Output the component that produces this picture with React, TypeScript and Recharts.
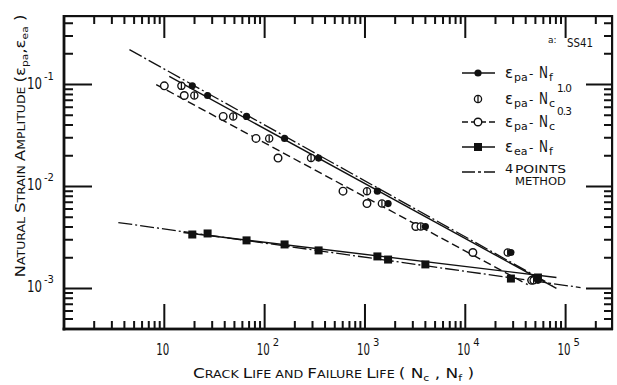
import React from 'react';
import { ComposedChart, XAxis, YAxis, Scatter, Line } from 'recharts';

// Failure life N_f (shared by the ε_pa–N_f and ε_ea–N_f series)
const failureLife = [19, 27, 66, 158, 345, 1330, 1700, 4000, 28500, 53000];
// Crack life N_c, crack-length exponent 1.0
const crackLife10 = [14.8, 19.9, 48.6, 111, 290, 1047, 1476, 3600, 26500, 48000];
// Crack life N_c, crack-length exponent 0.3
const crackLife03 = [10, 15.8, 38.6, 82, 136, 604, 1047, 3210, 11900, 45900];
// Plastic strain amplitude ε_pa of each specimen
const plasticStrain = [0.097, 0.078, 0.0486, 0.0296, 0.019, 0.009, 0.0068, 0.00405, 0.00225, 0.0012];
// Elastic strain amplitude ε_ea of each specimen
const elasticStrain = [0.00338, 0.00346, 0.00296, 0.0027, 0.00236, 0.00206, 0.00192, 0.00172, 0.00125, 0.00128];

// Fitted straight lines (end points in life / strain)
const fitPaNfLife = [11.2, 81000];
const fitPaNfStrain = [0.12, 0.001];
const fitPaNc03Life = [8.3, 41900];
const fitPaNc03Strain = [0.1, 0.00109];
const fitEaNfLife = [15.5, 81000];
const fitEaNfStrain = [0.00354, 0.00128];
const fourPointPaLife = [4.49, 74000];
const fourPointPaStrain = [0.22, 0.00107];
const fourPointEaLife = [3.48, 141000];
const fourPointEaStrain = [0.00443, 0.00102];

// Axis ranges, tick multipliers and decade tick labels
const X_DOMAIN: [number, number] = [1, 2.9e5];
const Y_DOMAIN: [number, number] = [4e-4, 0.47];
const TICK_MULTIPLIERS = [1, 2, 3, 4, 5, 6, 7, 8, 9];
const X_DECADES = [0, 1, 2, 3, 4, 5];
const Y_DECADES = [-4, -3, -2, -1];
const xDecadeExponents = [1, 2, 3, 4, 5];
const yDecadeExponents = [-1, -2, -3];

const pairs = (xs: number[], ys: number[]) => xs.map((x, i) => ({ x, y: ys[i] }));

const paNf = pairs(failureLife, plasticStrain);
const paNc10 = pairs(crackLife10, plasticStrain);
const paNc03 = pairs(crackLife03, plasticStrain);
const eaNf = pairs(failureLife, elasticStrain);
const fitPaNf = pairs(fitPaNfLife, fitPaNfStrain);
const fitPaNc03 = pairs(fitPaNc03Life, fitPaNc03Strain);
const fitEaNf = pairs(fitEaNfLife, fitEaNfStrain);
const fourPointPa = pairs(fourPointPaLife, fourPointPaStrain);
const fourPointEa = pairs(fourPointEaLife, fourPointEaStrain);

type Tick = { value: number; major: boolean };

// Log ticks: each multiplier of each decade that falls strictly inside the domain
const buildTicks = (decades: number[], domain: [number, number]): Tick[] => {
  const out: Tick[] = [];
  decades.forEach((d) => {
    TICK_MULTIPLIERS.forEach((k) => {
      const value = Number((k * Math.pow(10, d)).toPrecision(6));
      if (value > domain[0] * 1.0001 && value < domain[1] * 0.9999) out.push({ value, major: k === 1 });
    });
  });
  return out;
};
const X_TICK_LIST = buildTicks(X_DECADES, X_DOMAIN);
const Y_TICK_LIST = buildTicks(Y_DECADES, Y_DOMAIN);
const X_DECADE_TICKS = xDecadeExponents.map((e) => Math.pow(10, e));
const Y_DECADE_TICKS = yDecadeExponents.map((e) => Number(Math.pow(10, e).toPrecision(6)));

const W = 617;
const H = 385;
const X_AXIS_H = 56;
const Y_AXIS_W = 64;
const MARGIN = { top: 16, right: 5, bottom: 0, left: 0 };
const PLOT = { left: Y_AXIS_W, top: MARGIN.top, right: W - MARGIN.right, bottom: H - X_AXIS_H };
const INK = '#111';
const FONT = "'DejaVu Sans', 'Liberation Sans', sans-serif";

// Same log mapping as the chart axes (domain -> plot rectangle)
const logPos = (v: number, lo: number, hi: number, a: number, b: number) =>
  a + ((Math.log10(v) - Math.log10(lo)) / (Math.log10(hi) - Math.log10(lo))) * (b - a);
const px = (v: number) => logPos(v, X_DOMAIN[0], X_DOMAIN[1], PLOT.left, PLOT.right);
const py = (v: number) => logPos(v, Y_DOMAIN[0], Y_DOMAIN[1], PLOT.bottom, PLOT.top);

const expOf = (v: number) => Math.round(Math.log10(v));

// Decade tick labels
function XTick(props: any) {
  const { x, y, payload } = props;
  const exp = expOf(payload.value);
  return (
    <g fontFamily={FONT} fill={INK}>
      <text x={x - 8} y={y + 26} fontSize={15} textLength={13} lengthAdjust="spacingAndGlyphs">10</text>
      {exp > 1 && <text x={x + 8} y={y + 17} fontSize={10}>{exp}</text>}
    </g>
  );
}

function YTick(props: any) {
  const { y, payload } = props;
  const exp = expOf(payload.value);
  return (
    <g fontFamily={FONT} fill={INK}>
      <text x={27} y={y + 4} fontSize={15} textLength={15} lengthAdjust="spacingAndGlyphs">10</text>
      <text x={44} y={y - 5} fontSize={10}>{`-${Math.abs(exp)}`}</text>
    </g>
  );
}

// Inward tick marks on all four frame edges, as one path
function TickMarks() {
  let d = '';
  X_TICK_LIST.forEach((t) => {
    const x = px(t.value).toFixed(2);
    const lb = t.major ? 25 : 8;
    const lt = t.major ? 22 : 8;
    d += `M${x},${PLOT.bottom}V${PLOT.bottom - lb}M${x},${PLOT.top}V${PLOT.top + lt}`;
  });
  Y_TICK_LIST.forEach((t) => {
    const y = py(t.value).toFixed(2);
    const ll = t.major ? 28 : 9;
    const lr = t.major ? 26 : 8;
    d += `M${PLOT.left},${y}H${PLOT.left + ll}M${PLOT.right},${y}H${PLOT.right - lr}`;
  });
  return <path d={d} stroke={INK} strokeWidth={2} fill="none" />;
}

const SolidDot = (p: any) => <circle cx={p.cx} cy={p.cy} r={3.6} fill={INK} />;
const CrossedDot = (p: any) => (
  <g>
    <circle cx={p.cx} cy={p.cy} r={3.6} fill="#fff" stroke={INK} strokeWidth={1.3} />
    <line x1={p.cx} x2={p.cx} y1={p.cy - 3.2} y2={p.cy + 3.2} stroke={INK} strokeWidth={1.3} />
  </g>
);
const OpenDot = (p: any) => <circle cx={p.cx} cy={p.cy} r={3.8} fill="#fff" stroke={INK} strokeWidth={1.4} />;
const SquareDot = (p: any) => <rect x={p.cx - 4} y={p.cy - 4} width={8} height={8} fill={INK} />;

const DASH_DOT = '14 3 2 3';
const DASHED = '8 4';

function LegendOverlay() {
  const rows = [73, 99, 122, 147, 172];
  const lx1 = 462;
  const lx2 = 495;
  const mx = 478;
  const tx = 505;
  const strainLabel = (row: number, sub: string, nSub: string, sup?: string) => {
    const b = row + 5;
    return (
      <g>
        <text x={tx} y={b} fontSize={15}>ε</text>
        <text x={tx + 9} y={b + 3} fontSize={11}>{sub}</text>
        <text x={tx + 24} y={b} fontSize={12}>-</text>
        <text x={tx + 34} y={b} fontSize={15} textLength={9} lengthAdjust="spacingAndGlyphs">N</text>
        <text x={tx + 44} y={b + 3} fontSize={11}>{nSub}</text>
        {sup && (
          <text x={tx + 52} y={b - 12} fontSize={10.5} textLength={15} lengthAdjust="spacing">{sup}</text>
        )}
      </g>
    );
  };
  return (
    <g fontFamily={FONT} fill={INK}>
      <text x={548} y={43} fontSize={9}>a:</text>
      <text x={567} y={47} fontSize={12.5} textLength={26} lengthAdjust="spacingAndGlyphs">SS41</text>

      <line x1={lx1} x2={lx2} y1={rows[0]} y2={rows[0]} stroke={INK} strokeWidth={1.5} />
      <SolidDot cx={mx} cy={rows[0]} />
      {strainLabel(rows[0], 'pa', 'f')}

      <CrossedDot cx={mx} cy={rows[1]} />
      {strainLabel(rows[1], 'pa', 'c', '1.0')}

      <line x1={lx1} x2={lx2} y1={rows[2]} y2={rows[2]} stroke={INK} strokeWidth={1.5} strokeDasharray="6 3" />
      <OpenDot cx={mx} cy={rows[2]} />
      {strainLabel(rows[2], 'pa', 'c', '0.3')}

      <line x1={lx1} x2={lx2} y1={rows[3]} y2={rows[3]} stroke={INK} strokeWidth={1.5} />
      <SquareDot cx={mx} cy={rows[3]} />
      {strainLabel(rows[3], 'ea', 'f')}

      <line x1={lx1} x2={lx2} y1={rows[4]} y2={rows[4]} stroke={INK} strokeWidth={1.5} strokeDasharray="13 3 3 3" />
      <text x={tx} y={rows[4] + 1} fontSize={13}>4</text>
      <text x={tx + 10} y={rows[4] + 1} fontSize={10.5} textLength={51} lengthAdjust="spacingAndGlyphs">POINTS</text>
      <text x={tx + 10} y={rows[4] + 13} fontSize={10.5} textLength={51} lengthAdjust="spacingAndGlyphs">METHOD</text>
    </g>
  );
}

function Titles() {
  const big = 14;
  const small = 10.5;
  return (
    <g fontFamily={FONT} fill={INK}>
      <text x={193} y={378} textLength={281} lengthAdjust="spacingAndGlyphs">
        <tspan fontSize={big}>C</tspan>
        <tspan fontSize={small}>RACK </tspan>
        <tspan fontSize={big}>L</tspan>
        <tspan fontSize={small}>IFE AND </tspan>
        <tspan fontSize={big}>F</tspan>
        <tspan fontSize={small}>AILURE </tspan>
        <tspan fontSize={big}>L</tspan>
        <tspan fontSize={small}>IFE  </tspan>
        <tspan fontSize={big}>( N</tspan>
        <tspan fontSize={9} dy={3}>c</tspan>
        <tspan fontSize={big} dy={-3}> , N</tspan>
        <tspan fontSize={9} dy={3}>f</tspan>
        <tspan fontSize={big} dy={-3}> )</tspan>
      </text>
      <text transform="translate(25,146) rotate(-90)" textAnchor="middle" textLength={263} lengthAdjust="spacingAndGlyphs">
        <tspan fontSize={big}>N</tspan>
        <tspan fontSize={small}>ATURAL </tspan>
        <tspan fontSize={big}>S</tspan>
        <tspan fontSize={small}>TRAIN </tspan>
        <tspan fontSize={big}>A</tspan>
        <tspan fontSize={small}>MPLITUDE </tspan>
        <tspan fontSize={big}>(ε</tspan>
        <tspan fontSize={9} dy={3}>pa</tspan>
        <tspan fontSize={big} dy={-3}>,ε</tspan>
        <tspan fontSize={9} dy={3}>ea</tspan>
        <tspan fontSize={big} dy={-3}> )</tspan>
      </text>
    </g>
  );
}

function Frame() {
  return (
    <g fill={INK}>
      <rect x={PLOT.left - 1} y={PLOT.top - 1} width={PLOT.right - PLOT.left + 2} height={2.2} />
      <rect x={PLOT.right - 1} y={PLOT.top - 1} width={2.2} height={PLOT.bottom - PLOT.top + 2} />
      <rect x={PLOT.left - 1.4} y={PLOT.bottom - 1.4} width={PLOT.right - PLOT.left + 2.4} height={2.8} />
      <rect x={PLOT.left - 1.4} y={PLOT.top - 1} width={2.8} height={PLOT.bottom - PLOT.top + 2.4} />
    </g>
  );
}

export default function App() {
  return (
    <div style={{ position: 'absolute', left: 0, top: 0, width: W, height: H, background: '#fff' }}>
      <ComposedChart width={W} height={H} margin={MARGIN}>
        <XAxis
          dataKey="x"
          type="number"
          scale="log"
          domain={X_DOMAIN}
          allowDataOverflow
          ticks={X_DECADE_TICKS}
          interval={0}
          tick={(p: any) => <XTick {...p} />}
          tickLine={false}
          axisLine={false}
          tickSize={0}
          tickMargin={0}
          height={X_AXIS_H}
        />
        <YAxis
          dataKey="y"
          type="number"
          scale="log"
          domain={Y_DOMAIN}
          allowDataOverflow
          ticks={Y_DECADE_TICKS}
          interval={0}
          tick={(p: any) => <YTick {...p} />}
          tickLine={false}
          axisLine={false}
          tickSize={0}
          tickMargin={0}
          width={Y_AXIS_W}
        />
        <Line data={fourPointPa} dataKey="y" type="linear" stroke={INK} strokeWidth={1.3} strokeDasharray={DASH_DOT} dot={false} isAnimationActive={false} />
        <Line data={fourPointEa} dataKey="y" type="linear" stroke={INK} strokeWidth={1.3} strokeDasharray={DASH_DOT} dot={false} isAnimationActive={false} />
        <Line data={fitPaNf} dataKey="y" type="linear" stroke={INK} strokeWidth={1.4} dot={false} isAnimationActive={false} />
        <Line data={fitPaNc03} dataKey="y" type="linear" stroke={INK} strokeWidth={1.4} strokeDasharray={DASHED} dot={false} isAnimationActive={false} />
        <Line data={fitEaNf} dataKey="y" type="linear" stroke={INK} strokeWidth={1.4} dot={false} isAnimationActive={false} />
        <Scatter data={paNc03} dataKey="y" shape={OpenDot} isAnimationActive={false} />
        <Scatter data={paNc10} dataKey="y" shape={CrossedDot} isAnimationActive={false} />
        <Scatter data={paNf} dataKey="y" shape={SolidDot} isAnimationActive={false} />
        <Scatter data={eaNf} dataKey="y" shape={SquareDot} isAnimationActive={false} />
      </ComposedChart>
      <svg width={W} height={H} style={{ position: 'absolute', left: 0, top: 0, pointerEvents: 'none' }}>
        <TickMarks />
        <Frame />
        <LegendOverlay />
        <Titles />
      </svg>
    </div>
  );
}
